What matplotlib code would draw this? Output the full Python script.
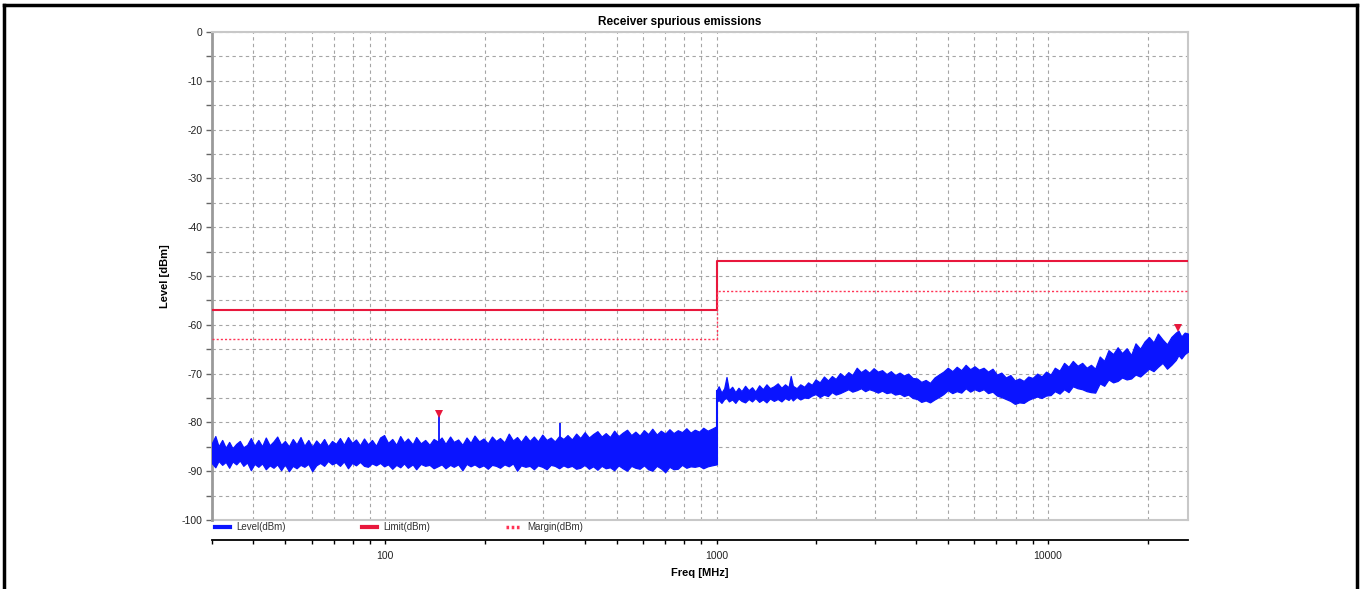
import matplotlib
matplotlib.use("Agg")
import matplotlib.pyplot as plt
from matplotlib.lines import Line2D
import numpy as np

plt.rcParams['font.family'] = ['Liberation Sans', 'DejaVu Sans']
plt.rcParams['axes.unicode_minus'] = False

# ---------------- data ----------------
# Level trace envelope, 30 MHz - 1 GHz
low_freq = [30, 30.7, 31.4, 32.2, 33, 33.8, 34.6, 35.5, 36.4, 37.3,
            38.3, 39.3, 40.3, 41.4, 42.5, 43.6, 44.8, 46, 47.2, 48.5,
            49.8, 51.2, 52.6, 54, 55.5, 57, 58.6, 60.2, 61.9, 63.6,
            65.4, 67.2, 69.1, 71, 73, 75, 77.2, 79.4, 81.6, 83.9,
            86.3, 88.7, 91.2, 93.8, 96.5, 99.2, 102, 105, 108, 111,
            114, 117, 121, 124, 128, 132, 136, 140, 144, 148,
            152, 157, 161, 166, 171, 176, 181, 186, 192, 198,
            204, 210, 216, 222, 229, 236, 243, 250, 257, 265,
            273, 281, 289, 298, 307, 316, 325, 335, 345, 355,
            366, 377, 388, 400, 412, 424, 437, 450, 463, 477,
            491, 506, 521, 537, 553, 569, 586, 604, 622, 640,
            660, 679, 700, 721, 742, 764, 787, 811, 835, 860,
            886, 912, 940, 968, 1000]
low_upper = [-84.2, -82.8, -84.9, -83.6, -85.2, -84.0, -85.3, -84.4, -83.8, -85.1,
             -84.6, -83.2, -84.8, -83.6, -84.9, -83.1, -84.7, -83.9, -82.9, -84.6,
             -83.8, -84.9, -83.4, -84.5, -83.0, -84.8, -83.6, -85.0, -83.7, -84.6,
             -83.4, -84.9, -83.8, -84.4, -83.2, -84.6, -83.0, -84.2, -83.5, -84.7,
             -83.3, -84.5, -83.6, -84.8, -83.1, -82.6, -84.2, -83.4, -84.6, -82.8,
             -84.1, -83.3, -84.5, -83.0, -84.3, -83.6, -84.6, -83.4, -83.9, -83.1,
             -84.4, -82.9, -84.0, -83.5, -84.6, -83.1, -84.2, -82.7, -83.9, -83.3,
             -84.3, -82.9, -83.8, -83.2, -84.1, -82.3, -83.7, -83.0, -84.0, -82.7,
             -83.8, -82.9, -83.9, -82.5, -83.6, -83.1, -83.9, -82.8, -83.4, -82.6,
             -83.5, -82.3, -83.2, -82.0, -83.1, -82.4, -81.8, -82.9, -82.2, -83.0,
             -81.7, -82.8, -82.1, -81.5, -82.6, -81.9, -82.7, -81.6, -82.4, -81.3,
             -82.5, -81.7, -82.3, -81.4, -82.2, -81.6, -82.0, -81.2, -82.1, -81.5,
             -81.9, -81.1, -81.7, -81.3, -80.8]
low_lower = [-88.4, -89.2, -87.9, -88.7, -88.1, -89.3, -88.0, -88.6, -87.8, -88.9,
             -88.2, -89.8, -88.5, -89.1, -88.4, -89.6, -88.8, -89.3, -88.6, -89.8,
             -88.6, -90.0, -88.9, -89.4, -88.7, -89.1, -88.5, -90.0, -88.8, -88.3,
             -88.9, -87.9, -88.6, -88.2, -88.9, -88.0, -89.4, -88.3, -88.8, -88.1,
             -88.9, -89.1, -88.4, -88.8, -88.3, -89.0, -88.6, -89.5, -88.7, -89.2,
             -88.4, -89.3, -88.6, -89.6, -88.5, -88.9, -88.7, -89.4, -89.0, -88.6,
             -89.4, -88.7, -89.1, -88.6, -89.8, -88.5, -89.0, -88.6, -89.2, -88.8,
             -89.5, -88.7, -88.9, -89.3, -88.6, -89.0, -88.4, -89.9, -88.8, -89.1,
             -88.9, -89.6, -88.8, -89.1, -89.6, -88.7, -88.9, -89.4, -88.8, -89.2,
             -88.9, -89.5, -89.3, -88.7, -89.5, -89.0, -89.7, -88.9, -89.4, -89.2,
             -89.8, -88.8, -89.4, -89.9, -88.9, -89.3, -89.5, -88.8, -89.6, -89.9,
             -88.9, -89.4, -90.2, -89.1, -89.6, -89.5, -88.7, -89.3, -89.0, -89.1,
             -88.9, -89.4, -89.0, -88.8, -88.6]

# Level trace envelope, 1 GHz - 26.5 GHz
high_freq = [1000, 1015, 1035, 1055, 1072, 1090, 1115, 1140, 1165, 1190,
             1220, 1250, 1280, 1310, 1345, 1380, 1415, 1450, 1490, 1530,
             1570, 1610, 1650, 1675, 1700, 1745, 1790, 1840, 1890, 1940,
             1990, 2050, 2110, 2170, 2230, 2290, 2360, 2430, 2500, 2570,
             2650, 2730, 2810, 2890, 2980, 3070, 3160, 3260, 3360, 3460,
             3570, 3680, 3790, 3910, 4030, 4150, 4280, 4410, 4550, 4690,
             4840, 4990, 5150, 5310, 5480, 5650, 5830, 6010, 6200, 6400,
             6600, 6810, 7020, 7240, 7470, 7710, 7950, 8200, 8460, 8730,
             9000, 9290, 9580, 9880, 10200, 10500, 10850, 11200, 11550, 11900,
             12300, 12700, 13100, 13500, 13900, 14350, 14800, 15250, 15750, 16250,
             16750, 17300, 17850, 18400, 19000, 19600, 20200, 20850, 21500, 22200,
             22900, 23600, 24350, 24800, 25300, 25900, 26500]
high_upper = [-73.5, -72.6, -73.9, -73.0, -70.7, -73.4, -72.7, -73.8, -72.9, -73.6,
              -72.5, -73.4, -72.8, -73.7, -72.4, -73.2, -72.2, -73.0, -72.6, -72.0,
              -72.9, -72.2, -72.8, -70.5, -72.5, -73.0, -72.2, -72.7, -71.8, -72.3,
              -71.2, -71.8, -70.6, -71.4, -70.5, -71.1, -69.9, -70.6, -69.7, -70.3,
              -68.8, -69.7, -69.1, -69.8, -68.9, -69.6, -69.3, -70.1, -69.5, -70.3,
              -69.8, -70.4, -70.0, -70.9, -71.0, -71.7, -71.3, -71.9, -70.8, -70.2,
              -69.6, -68.8, -69.5, -68.6, -69.3, -68.2, -69.1, -68.5, -69.2, -68.8,
              -69.6, -69.0, -70.2, -69.8, -70.8, -70.3, -71.4, -71.0, -71.5, -70.6,
              -70.9, -70.0, -70.6, -69.6, -70.2, -68.8, -69.4, -67.8, -68.6, -67.4,
              -68.4, -67.8, -68.8, -68.2, -69.0, -66.5, -67.4, -65.2, -66.0, -64.6,
              -65.8, -64.8, -66.2, -63.8, -64.9, -63.4, -62.5, -63.6, -61.8, -63.0,
              -64.0, -62.5, -61.6, -61.2, -62.4, -61.6, -61.8]
high_lower = [-75.8, -75.4, -76.0, -75.2, -75.0, -75.7, -75.3, -76.0, -75.1, -75.6,
              -75.9, -75.2, -75.7, -75.0, -75.8, -75.3, -75.9, -75.1, -75.6, -75.2,
              -75.7, -75.0, -75.4, -74.9, -75.5, -74.8, -75.3, -74.9, -75.0, -74.5,
              -74.2, -74.8, -74.3, -74.6, -73.8, -74.3, -74.0, -73.6, -73.2, -73.7,
              -73.4, -73.0, -73.6, -73.2, -73.5, -73.9, -73.5, -74.0, -73.8, -74.3,
              -74.1, -74.6, -74.3, -75.0, -75.2, -75.8, -75.5, -75.9, -75.3, -74.8,
              -74.2, -73.4, -74.0, -73.6, -73.9, -73.0, -73.7, -73.2, -73.6, -73.2,
              -74.0, -73.7, -74.5, -74.8, -75.2, -75.6, -76.2, -75.9, -76.0, -75.4,
              -75.0, -74.7, -75.0, -74.5, -74.4, -73.6, -74.1, -73.2, -73.8, -72.6,
              -73.0, -73.2, -73.6, -73.8, -73.9, -72.0, -72.5, -71.2, -71.8, -71.5,
              -70.8, -71.2, -71.0, -70.2, -70.6, -69.8, -69.0, -69.5, -68.6, -67.8,
              -69.0, -68.2, -67.2, -66.2, -66.9, -66.0, -65.5]

# Narrow spurs
spur_freq = [145, 336]
spur_top = [-78.2, -80.2]

# Limit and margin lines
limit_freq = [30, 1000, 26500]
limit_level = [-57, -47, -47]
margin_level = [-63, -53, -53]

# Peak markers
marker_freq = [145, 24800]
marker_level = [-78.2, -60.6]

# Axis labels / ticks
title = 'Receiver spurious emissions'
x_label = 'Freq [MHz]'
y_label = 'Level [dBm]'
x_ticks = [100, 1000, 10000]
x_ticklabels = ['100', '1000', '10000']
legend_labels = ['Level(dBm)', 'Limit(dBm)', 'Margin(dBm)']

# ---------------- styling ----------------
W, H = 1360, 589
blue = '#0a14ff'
red = '#e8173c'
pink = '#ff3355'

fig = plt.figure(figsize=(W / 100, H / 100), dpi=100)
fig.patch.set_facecolor('white')
ax = fig.add_axes([212 / W, (H - 520) / H, (1188 - 212) / W, (520 - 32) / H])

ax.set_xscale('log')
ax.set_xlim(30, 26500)
ax.set_ylim(-100, 0)

# grid
ax.set_yticks(np.arange(-100, 1, 10))
ax.set_yticks(np.arange(-95, 0, 10), minor=True)
ax.grid(which='both', linestyle=(0, (3, 3)), color='#a5a5a5', linewidth=0.8)
ax.set_axisbelow(True)

# level trace
ax.fill_between(low_freq, low_lower, low_upper, color=blue, linewidth=0.9, edgecolor=blue, zorder=3)
ax.fill_between(high_freq, high_lower, high_upper, color=blue, linewidth=0.9, edgecolor=blue, zorder=3)
ax.plot([low_freq[-1], high_freq[0]], [low_lower[-1], high_upper[0]], color=blue, lw=1.5, zorder=3)
ax.vlines(spur_freq, [-85] * len(spur_freq), spur_top, color=blue, lw=1.3, zorder=3)

# limit / margin
ax.plot(limit_freq, limit_level, drawstyle='steps-post', color=red, lw=1.5, zorder=4)
ax.plot(limit_freq, margin_level, drawstyle='steps-post', color=pink, lw=1.0,
        linestyle=(0, (1.5, 1.5)), zorder=4)

# markers
ax.plot(marker_freq, marker_level, linestyle='none', marker='v', color=red, markersize=6,
        markeredgewidth=0, zorder=5)

# spines
ax.spines['bottom'].set_position(('outward', 14.4))
ax.spines['bottom'].set_color('black')
ax.spines['bottom'].set_linewidth(1.3)
ax.spines['left'].set_color('#9a9a9a')
ax.spines['left'].set_linewidth(2)
for s in ['top', 'right']:
    ax.spines[s].set_color('#c8c8c8')
    ax.spines[s].set_linewidth(1.5)
ax.axhline(-100, color='#c8c8c8', lw=1.5, zorder=2, clip_on=False)

# ticks
ax.set_xticks(x_ticks)
ax.set_xticklabels(x_ticklabels)
ax.tick_params(axis='x', which='both', direction='out', length=3, width=1, color='black',
               labelsize=7.5, pad=5, labelcolor='#222222')
ax.tick_params(axis='y', which='both', direction='out', length=4, width=1, color='#666666',
               labelsize=7.5, pad=3, labelcolor='#222222')

ax.set_xlabel(x_label, fontsize=8, fontweight='bold', labelpad=5)
ax.set_ylabel(y_label, fontsize=8, fontweight='bold', labelpad=8)

fig.text(0.5, 1 - 22 / H, title, ha='center', va='center', fontsize=8.5, fontweight='bold')

# legend
handles = [Line2D([], [], color=blue, lw=3),
           Line2D([], [], color=red, lw=3),
           Line2D([], [], color=pink, lw=2.5, linestyle=(0, (0.75, 0.75)))]
leg = ax.legend(handles, legend_labels, loc='center left', bbox_to_anchor=(0.0, -7 / 488),
                ncol=3, frameon=False, fontsize=7, handlelength=1.6, handletextpad=0.6,
                columnspacing=7.8, borderaxespad=0, borderpad=0.3)
for t in leg.get_texts():
    t.set_color('#333333')

# outer black frame
for xs, ys in [([4 / W, 4 / W], [0, 1 - 5 / H]),
               ([4 / W, 1357 / W], [1 - 5 / H, 1 - 5 / H]),
               ([1357 / W, 1357 / W], [0, 1 - 5 / H])]:
    fig.add_artist(Line2D(xs, ys, transform=fig.transFigure, color='black', lw=2.5))

fig.savefig('out.png', dpi=100)
